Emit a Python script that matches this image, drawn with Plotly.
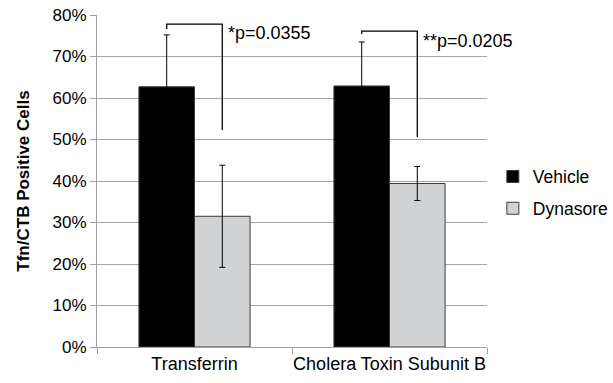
import plotly.graph_objects as go

categories = ["Transferrin", "Cholera Toxin Subunit B"]
vehicle = [0.627, 0.629]
vehicle_err = [0.125, 0.106]
dynasore = [0.315, 0.394]
dynasore_err = [0.123, 0.041]
p_labels = ["*p=0.0355", "**p=0.0205"]
bracket_top = [0.778, 0.761]
bracket_left_end = [0.766, 0.754]
bracket_right_end = [0.523, 0.506]
label_y = [0.757, 0.738]

xs = list(range(len(categories)))
off = 0.1425
font = "Liberation Sans, Arial, sans-serif"

fig = go.Figure()
fig.add_trace(go.Bar(
    x=xs, y=vehicle, name="Vehicle", legendgroup="a",
    marker=dict(color="#000000", line=dict(color="#3a3a3a", width=1)),
    error_y=dict(type="data", array=vehicle_err, color="#000000", thickness=1, width=3),
))
fig.add_trace(go.Bar(
    x=xs, y=dynasore, name="Dynasore", legendgroup="b",
    marker=dict(color="#d1d2d4", line=dict(color="#3a3a3a", width=1)),
    error_y=dict(type="data", array=dynasore_err, color="#000000", thickness=1, width=3),
))

for i in xs:
    xl, xr = i - off, i + off
    path = (f"M {xl} {bracket_left_end[i]} L {xl} {bracket_top[i]} "
            f"L {xr} {bracket_top[i]} L {xr} {bracket_right_end[i]}")
    fig.add_shape(type="path", path=path, xref="x", yref="y",
                  line=dict(color="#000000", width=1.3))
    fig.add_annotation(x=xr + 0.02, y=label_y[i], text=p_labels[i], showarrow=False,
                       xanchor="left", yanchor="middle", xref="x", yref="y",
                       font=dict(size=18, color="#000000", family=font))

fig.update_layout(
    width=613, height=383,
    margin=dict(l=97, r=126, t=15, b=36, autoexpand=False),
    paper_bgcolor="white", plot_bgcolor="white",
    barmode="group", bargap=0.43, bargroupgap=0,
    font=dict(family=font, size=17, color="#000000"),
    showlegend=True,
    legend=dict(x=1.015, y=0.465, xanchor="left", yanchor="middle",
                traceorder="grouped", tracegroupgap=6,
                font=dict(size=17.5, family=font), bgcolor="rgba(0,0,0,0)",
                itemwidth=30),
)
fig.update_xaxes(
    range=[-0.5, 1.5], tickmode="array", tickvals=xs, ticktext=categories,
    ticks="", showline=True, linecolor="#a0a0a0", linewidth=1, showgrid=False,
    zeroline=False, tickfont=dict(size=18), automargin=False,
    minor=dict(tickmode="linear", tick0=0.5, dtick=1, ticks="outside", ticklen=6,
               tickcolor="#a0a0a0", showgrid=False),
)
fig.update_yaxes(
    range=[0, 0.8], dtick=0.1, tickformat=".0%", ticks="outside", ticklen=6,
    tickcolor="#a0a0a0", showline=True, linecolor="#a0a0a0", linewidth=1,
    showgrid=True, gridcolor="#a6a6a6", gridwidth=1, zeroline=False,
    tickfont=dict(size=17), automargin=False,
    title=dict(text="<b>Tfn/CTB Positive Cells</b>", font=dict(size=17), standoff=18),
)

fig.write_html("out.html", config={"displayModeBar": False},
               post_script="document.body.style.margin='0';document.body.style.overflow='hidden';")
